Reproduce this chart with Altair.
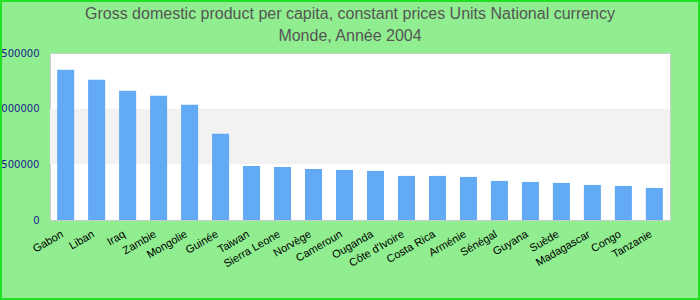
import altair as alt
import pandas as pd

countries = ["Gabon", "Liban", "Iraq", "Zambie", "Mongolie", "Guinée", "Taiwan",
             "Sierra Leone", "Norvège", "Cameroun", "Ouganda", "Côte d'Ivoire",
             "Costa Rica", "Arménie", "Sénégal", "Guyana", "Suède", "Madagascar",
             "Congo", "Tanzanie"]
values = [1350000, 1260000, 1161000, 1116000, 1035000, 774000, 486000,
          477000, 459000, 450000, 441000, 396000,
          396000, 387000, 351000, 342000, 333000, 315000,
          306000, 288000]
band_start = [500000]
band_end = [1000000]
y_ticks = [0, 500000, 1000000, 1500000]

df = pd.DataFrame({"country": countries, "value": values})
bands = pd.DataFrame({"y0": band_start, "y1": band_end})

W, H = 620, 167
PL, PT = 50, 53

yscale = alt.Scale(domain=[0, 1500000])

band_layer = alt.Chart(bands).mark_rect(color="#f2f2f2").encode(
    y=alt.Y("y0:Q", scale=yscale),
    y2="y1:Q",
    x=alt.value(0), x2=alt.value(W),
)

bars = alt.Chart(df).mark_bar(color="#63aaf5").encode(
    x=alt.X("country:N", sort=countries,
            scale=alt.Scale(paddingInner=0.45, paddingOuter=0.23),
            axis=alt.Axis(title=None, labelAngle=-30, labelAlign="right",
                          labelBaseline="top", labelPadding=8, labelOffset=-6,
                          ticks=False, domain=False, labelFont="Liberation Sans",
                          labelFontSize=11, labelColor="#000000")),
    y=alt.Y("value:Q", scale=yscale,
            axis=alt.Axis(title=None, values=y_ticks, format="d", ticks=False,
                          domain=False, grid=False, labelPadding=11,
                          labelFont="DejaVu Sans", labelFontSize=10,
                          labelColor="#1a1a8c")),
)

frame = alt.Chart(bands).mark_rect(fill="transparent", stroke="#22e022",
                                   strokeWidth=2).encode(
    x=alt.value(-PL + 1), x2=alt.value(700 - PL - 1),
    y=alt.value(-PT + 1), y2=alt.value(300 - PT - 1),
)

chart = alt.layer(band_layer, bars, frame).properties(
    width=W, height=H,
    autosize=alt.AutoSizeParams(type="none"),
    padding={"left": PL, "top": PT, "right": 700 - PL - W, "bottom": 300 - PT - H},
    background="#90ee90",
    title=alt.TitleParams(
        text=["Gross domestic product per capita, constant prices Units National currency",
              "Monde, Année 2004"],
        font="Liberation Sans", fontSize=16, fontWeight="normal", color="#555555",
        anchor="middle", frame="group", lineHeight=22, offset=-44, dx=-10,
    ),
).configure_view(fill="white", stroke="#cccccc", strokeWidth=1)

chart.save("out.html", embed_options={"renderer": "svg", "actions": False})
